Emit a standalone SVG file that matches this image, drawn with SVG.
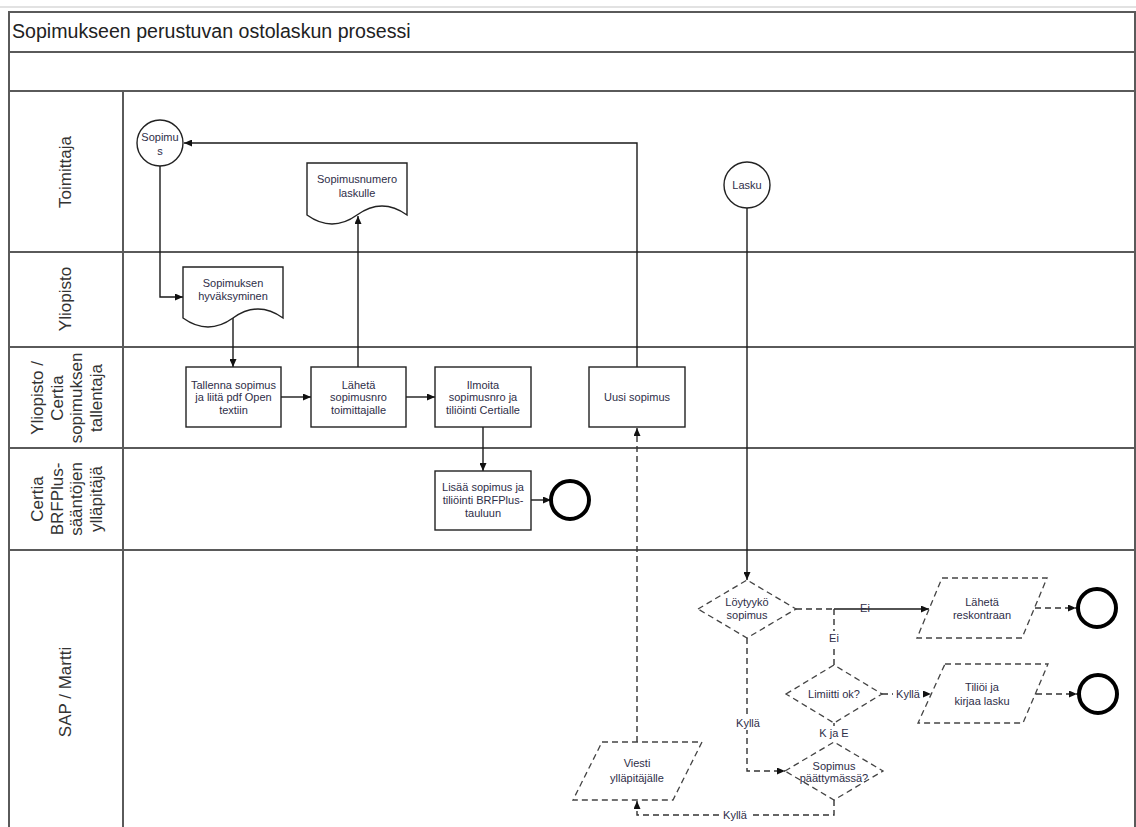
<svg xmlns="http://www.w3.org/2000/svg" width="1136" height="827" viewBox="0 0 1136 827">
<style>
  .frame { fill: none; stroke: #5a5a5a; stroke-width: 2; }
  .lane { font-family: "Liberation Sans", Arial, sans-serif; font-size: 17px; fill: #333; }
  .title { font-family: "Liberation Sans", Arial, sans-serif; font-size: 19.6px; fill: #222; }
  .lbl { font-family: "Liberation Sans", Arial, sans-serif; font-size: 11px; fill: #2e2e48; text-anchor: middle; }
  .node { fill: #fff; stroke: #222; stroke-width: 1.4; }
  .dnode { fill: #fff; stroke: #444; stroke-width: 1.3; stroke-dasharray: 6,4; }
  .end { fill: none; stroke: #000; stroke-width: 4; }
  .c { fill: none; stroke: #1a1a1a; stroke-width: 1.4; }
  .cd { fill: none; stroke: #333; stroke-width: 1.4; stroke-dasharray: 6,4; }
  .bg { fill: #fff; }
</style>
<defs>
  <marker id="arr" viewBox="0 0 8 7" refX="8" refY="3.5" markerWidth="8" markerHeight="7" markerUnits="userSpaceOnUse" orient="auto">
    <path d="M0,0 L8,3.5 L0,7 z" fill="#111"/>
  </marker>
</defs>
<rect width="1136" height="827" fill="#fff"/>
<line x1="0" y1="7" x2="1136" y2="7" stroke="#e2e2e2" stroke-width="2"/>

<g id="pool">
  <path class="frame" d="M9,827 V12 H1135 V827"/>
  <line class="frame" x1="9" y1="52" x2="1135" y2="52"/>
  <line class="frame" x1="9" y1="91" x2="1135" y2="91"/>
  <line class="frame" x1="9" y1="252" x2="1135" y2="252"/>
  <line class="frame" x1="9" y1="347" x2="1135" y2="347"/>
  <line class="frame" x1="9" y1="448" x2="1135" y2="448"/>
  <line class="frame" x1="9" y1="550" x2="1135" y2="550"/>
  <line class="frame" x1="123" y1="91" x2="123" y2="827"/>
  <text class="title" x="12" y="38">Sopimukseen perustuvan ostolaskun prosessi</text>
  <text class="lane" text-anchor="middle" transform="translate(0,172) rotate(-90)"><tspan x="0" y="71">Toimittaja</tspan></text>
  <text class="lane" text-anchor="middle" transform="translate(0,299) rotate(-90)"><tspan x="0" y="71">Yliopisto</tspan></text>
  <text class="lane" text-anchor="middle" transform="translate(0,398) rotate(-90)"><tspan x="0" y="43">Yliopisto /</tspan><tspan x="0" y="62.5">Certia</tspan><tspan x="0" y="82">sopimuksen</tspan><tspan x="0" y="101.5">tallentaja</tspan></text>
  <text class="lane" text-anchor="middle" transform="translate(0,499) rotate(-90)"><tspan x="0" y="43">Certia</tspan><tspan x="0" y="62.5">BRFPlus-</tspan><tspan x="0" y="82">sääntöjen</tspan><tspan x="0" y="101.5">ylläpitäjä</tspan></text>
  <text class="lane" text-anchor="middle" transform="translate(0,692) rotate(-90)"><tspan x="0" y="71">SAP / Martti</tspan></text>
</g>

<g id="connectors">
  <path class="c" d="M160,166 V297 H183" marker-end="url(#arr)"/>
  <path class="c" d="M233,318 V367" marker-end="url(#arr)"/>
  <path class="c" d="M281,397 H311" marker-end="url(#arr)"/>
  <path class="c" d="M358,367 V216" marker-end="url(#arr)"/>
  <path class="c" d="M406,397 H435" marker-end="url(#arr)"/>
  <path class="c" d="M483,427 V471" marker-end="url(#arr)"/>
  <path class="c" d="M531,500 H551" marker-end="url(#arr)"/>
  <path class="c" d="M637,367 V143 H184" marker-end="url(#arr)"/>
  <path class="c" d="M747,208 V580" marker-end="url(#arr)"/>
  <path class="cd" d="M796,609 H834"/>
  <path class="c" d="M834,609 H929" marker-end="url(#arr)"/>
  <path class="cd" d="M834,609 V665"/>
  <path class="cd" d="M1035,608 H1076" marker-end="url(#arr)"/>
  <path class="cd" d="M882,694 H931" marker-end="url(#arr)"/>
  <path class="cd" d="M1036,694 H1077" marker-end="url(#arr)"/>
  <path class="cd" d="M834,723 V742"/>
  <path class="cd" d="M747,638 V771 H785" marker-end="url(#arr)"/>
  <path class="cd" d="M834,800 V815 H637 V801" marker-end="url(#arr)"/>
  <path class="cd" d="M637,742 V428" marker-end="url(#arr)"/>
  <text class="lbl" x="865" y="612">Ei</text>
  <rect class="bg" x="826" y="631" width="16" height="14"/>
  <text class="lbl" x="834" y="642">Ei</text>
  <rect class="bg" x="893" y="688" width="30" height="13"/>
  <text class="lbl" x="908" y="698">Kyllä</text>
  <rect class="bg" x="816" y="726" width="36" height="14"/>
  <text class="lbl" x="834" y="737">K ja E</text>
  <rect class="bg" x="733" y="716" width="30" height="14"/>
  <text class="lbl" x="748" y="727">Kyllä</text>
  <rect class="bg" x="720" y="808" width="30" height="14"/>
  <text class="lbl" x="735" y="819">Kyllä</text>
</g>

<g id="sopimus">
  <circle class="node" cx="160" cy="143" r="23"/>
  <text class="lbl" x="160" y="141">Sopimu</text>
  <text class="lbl" x="160" y="155">s</text>
</g>
<g id="sopimusnumero">
  <path class="node" d="M307,163 H407 V215 Q382,197 357,215 Q332,233 307,215 Z"/>
  <text class="lbl" x="357" y="183">Sopimusnumero</text>
  <text class="lbl" x="357" y="197">laskulle</text>
</g>
<g id="lasku">
  <circle class="node" cx="747" cy="185" r="23"/>
  <text class="lbl" x="747" y="189">Lasku</text>
</g>
<g id="hyvaksyminen">
  <path class="node" d="M183,267 H283 V318 Q258,300 233,318 Q208,336 183,318 Z"/>
  <text class="lbl" x="233" y="287">Sopimuksen</text>
  <text class="lbl" x="233" y="300">hyväksyminen</text>
</g>
<g id="tallenna">
  <rect class="node" x="186" y="367" width="95" height="60"/>
  <text class="lbl" x="233.5" y="389">Tallenna sopimus</text>
  <text class="lbl" x="233.5" y="401">ja liitä pdf Open</text>
  <text class="lbl" x="233.5" y="414">textiin</text>
</g>
<g id="laheta">
  <rect class="node" x="311" y="367" width="95" height="60"/>
  <text class="lbl" x="358.5" y="389">Lähetä</text>
  <text class="lbl" x="358.5" y="401">sopimusnro</text>
  <text class="lbl" x="358.5" y="414">toimittajalle</text>
</g>
<g id="ilmoita">
  <rect class="node" x="435" y="367" width="96" height="60"/>
  <text class="lbl" x="483" y="389">Ilmoita</text>
  <text class="lbl" x="483" y="401">sopimusnro ja</text>
  <text class="lbl" x="483" y="414">tiliöinti Certialle</text>
</g>
<g id="uusi">
  <rect class="node" x="589" y="367" width="96" height="60"/>
  <text class="lbl" x="637" y="401">Uusi sopimus</text>
</g>
<g id="lisaa">
  <rect class="node" x="435" y="471" width="96" height="59"/>
  <text class="lbl" x="483" y="491">Lisää sopimus ja</text>
  <text class="lbl" x="483" y="504">tiliöinti BRFPlus-</text>
  <text class="lbl" x="483" y="517">tauluun</text>
</g>
<g id="end1">
  <circle class="end" cx="570" cy="500" r="19"/>
</g>
<g id="loytyyko">
  <polygon class="dnode" points="698,609 747,580 796,609 747,638"/>
  <text class="lbl" x="747" y="606">Löytyykö</text>
  <text class="lbl" x="747" y="619">sopimus</text>
</g>
<g id="reskontraan">
  <polygon class="dnode" points="942,578 1047,578 1022,638 917,638"/>
  <text class="lbl" x="982" y="606">Lähetä</text>
  <text class="lbl" x="982" y="619">reskontraan</text>
</g>
<g id="end2">
  <circle class="end" cx="1097" cy="608" r="19"/>
</g>
<g id="limiitti">
  <polygon class="dnode" points="786,694 834,665 882,694 834,723"/>
  <text class="lbl" x="834" y="698">Limiitti ok?</text>
</g>
<g id="tilioi">
  <polygon class="dnode" points="945,664 1048,664 1023,723 918,723"/>
  <text class="lbl" x="982" y="691">Tiliöi ja</text>
  <text class="lbl" x="982" y="705">kirjaa lasku</text>
</g>
<g id="end3">
  <circle class="end" cx="1098" cy="694" r="19"/>
</g>
<g id="paattymassa">
  <polygon class="dnode" points="785,771 834,742 883,771 834,800"/>
  <text class="lbl" x="834" y="770">Sopimus</text>
  <text class="lbl" x="834" y="782">päättymässä?</text>
</g>
<g id="viesti">
  <polygon class="dnode" points="602,742 702,742 673,800 573,800"/>
  <text class="lbl" x="637" y="767">Viesti</text>
  <text class="lbl" x="637" y="782">ylläpitäjälle</text>
</g>
</svg>
